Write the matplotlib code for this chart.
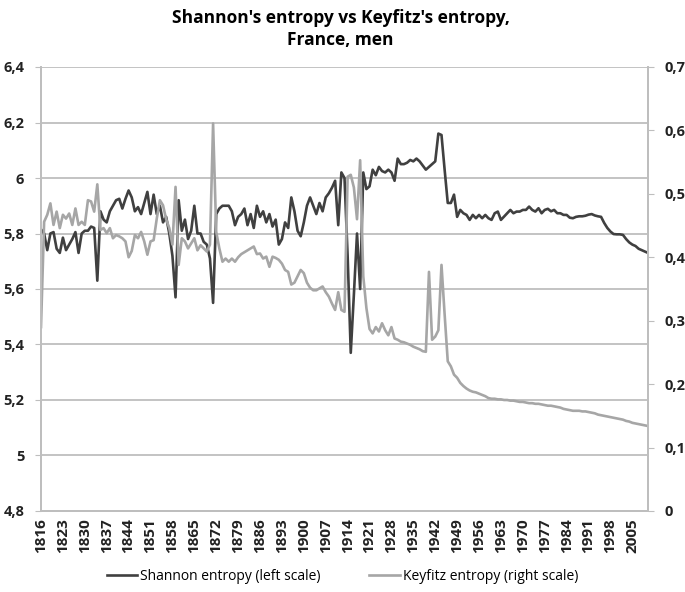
import numpy as np
import matplotlib.pyplot as plt
from matplotlib.ticker import FuncFormatter

years = list(range(1816, 2011))

# Shannon's entropy, men (left scale)
shannon = [
    5.815, 5.80, 5.74, 5.80, 5.805, 5.745, 5.73, 5.785, 5.74, 5.76,      # 1816-1825
    5.78, 5.805, 5.73, 5.80, 5.81, 5.81, 5.825, 5.82, 5.63, 5.88,        # 1826-1835
    5.85, 5.84, 5.88, 5.90, 5.92, 5.925, 5.89, 5.925, 5.955, 5.93,       # 1836-1845
    5.88, 5.895, 5.87, 5.91, 5.95, 5.87, 5.94, 5.87, 5.90, 5.84,         # 1846-1855
    5.86, 5.80, 5.72, 5.57, 5.92, 5.81, 5.85, 5.78, 5.81, 5.90,          # 1856-1865
    5.80, 5.80, 5.77, 5.76, 5.71, 5.55, 5.87, 5.89, 5.90, 5.90,          # 1866-1875
    5.90, 5.88, 5.83, 5.86, 5.87, 5.89, 5.83, 5.87, 5.82, 5.90,          # 1876-1885
    5.86, 5.88, 5.84, 5.87, 5.825, 5.85, 5.76, 5.78, 5.84, 5.82,         # 1886-1895
    5.93, 5.88, 5.81, 5.79, 5.84, 5.90, 5.93, 5.90, 5.87, 5.91,          # 1896-1905
    5.88, 5.93, 5.945, 5.965, 5.99, 5.83, 6.02, 6.00, 5.72, 5.37,        # 1906-1915
    5.58, 5.80, 5.60, 6.02, 5.96, 5.97, 6.03, 6.01, 6.04, 6.025,         # 1916-1925
    6.02, 6.03, 6.02, 5.99, 6.07, 6.05, 6.05, 6.055, 6.065, 6.06,        # 1926-1935
    6.07, 6.06, 6.045, 6.03, 6.04, 6.05, 6.06, 6.16, 6.155, 6.03,        # 1936-1945
    5.91, 5.91, 5.94, 5.86, 5.885, 5.873, 5.867, 5.849, 5.867, 5.855,    # 1946-1955
    5.867, 5.855, 5.867, 5.855, 5.849, 5.873, 5.879, 5.849, 5.861, 5.873,  # 1956-1965
    5.885, 5.873, 5.879, 5.879, 5.885, 5.885, 5.897, 5.885, 5.879, 5.891,  # 1966-1975
    5.873, 5.885, 5.889, 5.88, 5.885, 5.873, 5.873, 5.867, 5.867, 5.857,   # 1976-1985
    5.855, 5.86, 5.862, 5.862, 5.864, 5.868, 5.87, 5.865, 5.862, 5.86,     # 1986-1995
    5.838, 5.82, 5.807, 5.798, 5.797, 5.797, 5.795, 5.78, 5.768, 5.76,     # 1996-2005
    5.755, 5.745, 5.74, 5.735, 5.73,                                        # 2006-2010
]

# Keyfitz's entropy, men (right scale)
keyfitz = [
    0.29, 0.456, 0.467, 0.485, 0.451, 0.472, 0.446, 0.467, 0.461, 0.469,   # 1816-1825
    0.451, 0.477, 0.451, 0.456, 0.451, 0.49, 0.488, 0.472, 0.515, 0.443,   # 1826-1835
    0.446, 0.438, 0.446, 0.43, 0.435, 0.433, 0.43, 0.425, 0.40, 0.41,      # 1836-1845
    0.435, 0.43, 0.44, 0.425, 0.404, 0.425, 0.427, 0.461, 0.49, 0.482,     # 1846-1855
    0.46, 0.446, 0.42, 0.511, 0.388, 0.43, 0.425, 0.414, 0.422, 0.43,      # 1856-1865
    0.411, 0.419, 0.414, 0.409, 0.42, 0.611, 0.44, 0.414, 0.393, 0.398,    # 1866-1875
    0.393, 0.398, 0.393, 0.40, 0.405, 0.408, 0.411, 0.414, 0.417, 0.405,   # 1876-1885
    0.406, 0.398, 0.401, 0.385, 0.401, 0.399, 0.396, 0.39, 0.38, 0.377,    # 1886-1895
    0.357, 0.36, 0.37, 0.38, 0.375, 0.36, 0.352, 0.348, 0.348, 0.351,      # 1896-1905
    0.354, 0.345, 0.338, 0.327, 0.317, 0.345, 0.317, 0.314, 0.527, 0.53,   # 1906-1915
    0.51, 0.46, 0.553, 0.37, 0.32, 0.287, 0.28, 0.29, 0.283, 0.296,        # 1916-1925
    0.285, 0.277, 0.29, 0.272, 0.27, 0.267, 0.266, 0.264, 0.262, 0.259,    # 1926-1935
    0.257, 0.255, 0.252, 0.251, 0.377, 0.27, 0.275, 0.285, 0.388, 0.31,    # 1936-1945
    0.236, 0.228, 0.215, 0.21, 0.202, 0.197, 0.193, 0.19, 0.188, 0.187,    # 1946-1955
    0.185, 0.183, 0.181, 0.178, 0.177, 0.177, 0.176, 0.176, 0.175, 0.175,  # 1956-1965
    0.174, 0.174, 0.173, 0.172, 0.172, 0.171, 0.17, 0.17, 0.169, 0.169,    # 1966-1975
    0.168, 0.167, 0.166, 0.166, 0.165, 0.164, 0.163, 0.161, 0.16, 0.159,   # 1976-1985
    0.158, 0.158, 0.158, 0.157, 0.157, 0.156, 0.155, 0.154, 0.152, 0.151,  # 1986-1995
    0.15, 0.149, 0.148, 0.147, 0.146, 0.145, 0.144, 0.142, 0.141, 0.139,   # 1996-2005
    0.138, 0.137, 0.136, 0.135, 0.134,                                      # 2006-2010
]

year_ticks = list(range(1816, 2011, 7))
left_ticks = [4.8, 5.0, 5.2, 5.4, 5.6, 5.8, 6.0, 6.2, 6.4]
right_ticks = [0, 0.1, 0.2, 0.3, 0.4, 0.5, 0.6, 0.7]

dark = '#404040'
light = '#a6a6a6'
grid_col = '#bebebe'

plt.rcParams['font.family'] = ['Open Sans', 'DejaVu Sans']


def comma(v, pos):
    s = f"{v:.1f}".rstrip('0').rstrip('.') if v != int(v) else f"{int(v)}"
    return s.replace('.', ',')


fig = plt.figure(figsize=(6.85, 5.92), dpi=100)
ax1 = fig.add_axes([41 / 685, 1 - 511 / 592, (648 - 41) / 685, (511 - 67) / 592])
ax2 = ax1.twinx()

ax1.plot(years, shannon, color=dark, lw=1.9, label='Shannon entropy (left scale)')
ax2.plot(years, keyfitz, color=light, lw=1.9, label='Keyfitz entropy (right scale)')

ax1.set_xlim(1816, 2010)
ax1.set_ylim(4.8, 6.4)
ax2.set_ylim(0, 0.7)
ax1.set_yticks(left_ticks)
ax2.set_yticks(right_ticks)
ax1.yaxis.set_major_formatter(FuncFormatter(comma))
ax2.yaxis.set_major_formatter(FuncFormatter(comma))
ax1.set_xticks(year_ticks)
ax1.set_xticklabels([str(y) for y in year_ticks], rotation=90, fontsize=11,
                    fontweight='bold', color='#222222')

for t in ax1.get_yticklabels() + ax2.get_yticklabels():
    t.set_fontsize(10.5)
    t.set_fontweight('bold')
    t.set_color('#222222')

ax1.grid(axis='y', color=grid_col, lw=1.3)
ax1.set_axisbelow(True)
for ax in (ax1, ax2):
    ax.spines['top'].set_visible(False)
    for s in ('left', 'right', 'bottom'):
        ax.spines[s].set_color(grid_col)
        ax.spines[s].set_linewidth(1.3)
ax1.tick_params(axis='x', length=0, pad=5)
ax1.tick_params(axis='y', length=4, color=grid_col, pad=8)
ax2.tick_params(axis='y', length=4, color=grid_col, pad=8)

fig.suptitle("Shannon's entropy vs Keyfitz's entropy,\nFrance, men",
             x=0.497, y=0.985, fontsize=12.5, fontweight='bold', linespacing=1.3)

h1, l1 = ax1.get_legend_handles_labels()
h2, l2 = ax2.get_legend_handles_labels()
fig.legend(h1 + h2, l1 + l2, loc='lower center', bbox_to_anchor=(0.5, -0.008),
           ncol=2, frameon=False, fontsize=10, handlelength=2.2,
           handletextpad=0.2, columnspacing=3.5)

fig.savefig('out.png', dpi=100)
